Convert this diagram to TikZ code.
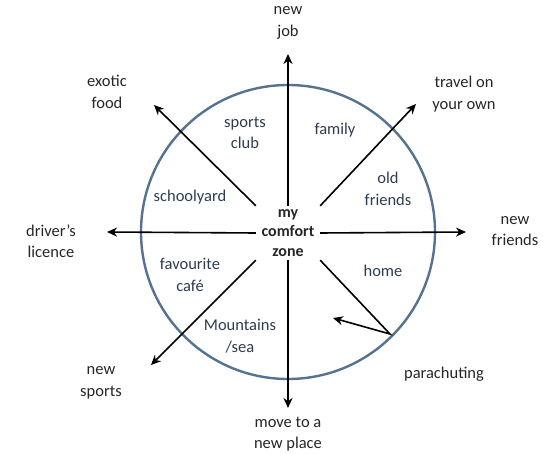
\documentclass[tikz,border=0pt]{standalone}
\usepackage{fontspec}
\setmainfont{Carlito}
\usetikzlibrary{arrows.meta}

\begin{document}
\begin{tikzpicture}[x=1pt,y=-1pt,
    outtext/.style={align=center, text=black!85, font=\fontsize{16.5}{21.5}\selectfont},
    intext/.style={align=center, text=zonetext, font=\fontsize{16.5}{21.5}\selectfont},
    ray/.style={line width=1.6pt, -{Stealth[length=10pt,width=9pt]}}]
      % Define colors
      \definecolor{ringcol}{RGB}{84,114,145}
      \definecolor{zonetext}{RGB}{46,60,80}

      \useasboundingbox (0,0) rectangle (543,454);

      % Comfort zone ring
      \draw[ringcol, line width=2.4pt] (288,232) circle (147);

      % Centre
      \node[inner sep=0pt, minimum width=64pt, minimum height=54pt,
            align=center, font=\bfseries\fontsize{16}{19.5}\selectfont, text=black!85]
            (zone) at (288,233) {my\\comfort\\zone};

      % Arrow tips
      \coordinate (tipN) at (288,54);
      \coordinate (tipS) at (288,408);
      \coordinate (tipW) at (107,232);
      \coordinate (tipE) at (466,232);
      \coordinate (tipNW) at (154,105);
      \coordinate (tipNE) at (416,104);
      \coordinate (tipSW) at (151,365);
      \coordinate (bend) at (390,334);
      \coordinate (tipSE) at (333,318);

      % Rays
      \draw[ray] (zone.north) -- (tipN);
      \draw[ray] (zone.south) -- (tipS);
      \draw[ray] (zone.west) -- (tipW);
      \draw[ray] (zone.east) -- (tipE);
      \draw[ray] (zone.north west) -- (tipNW);
      \draw[ray] (zone.north east) -- (tipNE);
      \draw[ray] (zone.south west) -- (tipSW);
      \draw[ray] (zone.south east) -- (bend) -- (tipSE);

      % Outside labels
      \node[outtext] (job) at (288,23) {new\\job};
      \node[outtext] (food) at (107,92) {exotic\\food};
      \node[outtext] (travel) at (464,94) {travel on\\your own};
      \node[outtext] (licence) at (51,241) {driver's\\licence};
      \node[outtext] (friends) at (515,231) {new\\friends};
      \node[outtext] (sports) at (101,383) {new\\sports};
      \node[outtext] (para) at (444,374) {parachuting};
      \node[outtext] (move) at (288,434) {move to a\\new place};

      % Inside labels
      \node[intext] (club) at (245,133) {sports\\club};
      \node[intext] (family) at (335,130) {family};
      \node[intext] (yard) at (190,197) {schoolyard};
      \node[intext] (old) at (388,189) {old\\friends};
      \node[intext] (cafe) at (190,275) {favourite\\café};
      \node[intext] (home) at (383,271) {home};
      \node[intext] (sea) at (240,336) {Mountains\\/sea};

    \end{tikzpicture}
\end{document}
